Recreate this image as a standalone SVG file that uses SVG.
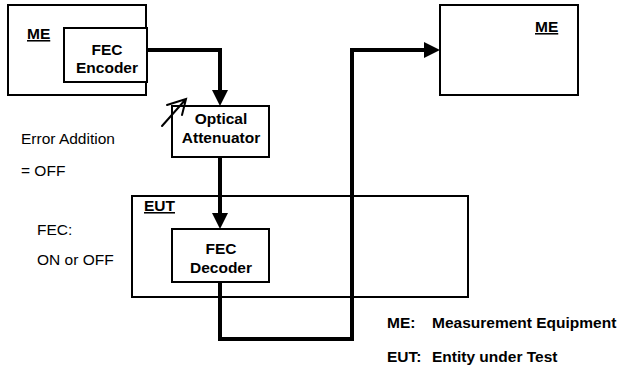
<svg xmlns="http://www.w3.org/2000/svg" width="623" height="367" viewBox="0 0 623 367">
<style>
  .box { fill: #ffffff; stroke: #000000; stroke-width: 2; }
  .t { font-family: "Liberation Sans", Arial, sans-serif; font-size: 15.5px; fill: #000000; }
  .b { font-weight: bold; }
  .c { text-anchor: middle; }
  .u { text-decoration: underline; }
  .conn { fill: none; stroke: #000000; stroke-width: 4; stroke-linejoin: miter; }
  .thin { fill: none; stroke: #000000; stroke-width: 2; stroke-linecap: round; }
</style>
<defs>
  <marker id="arr" markerUnits="userSpaceOnUse" markerWidth="16" markerHeight="16" refX="8" refY="8" orient="auto">
    <path d="M0,0 L16,8 L0,16 z" fill="#000000"/>
  </marker>
</defs>
<rect width="623" height="367" fill="#ffffff"/>

<g id="me-left">
  <rect class="box" x="8" y="5" width="138" height="90"/>
  <text class="t b u" x="27" y="39">ME</text>
</g>
<g id="fec-encoder">
  <rect class="box" x="64" y="28" width="83" height="54"/>
  <text class="t b c" x="107" y="55">FEC</text>
  <text class="t b c" x="107" y="73">Encoder</text>
</g>
<g id="optical-attenuator">
  <rect class="box" x="172" y="106" width="97" height="51"/>
  <text class="t b c" x="221" y="124">Optical</text>
  <text class="t b c" x="221" y="143">Attenuator</text>
  <path class="thin" d="M162,126 L186,99 M167,105 L186,99 L182,115"/>
</g>
<g id="eut">
  <rect class="box" x="132" y="196" width="336" height="101"/>
  <text class="t b u" x="144" y="211">EUT</text>
</g>
<g id="fec-decoder">
  <rect class="box" x="172" y="229" width="97" height="53"/>
  <text class="t b c" x="221" y="254">FEC</text>
  <text class="t b c" x="221" y="273">Decoder</text>
</g>
<g id="me-right">
  <rect class="box" x="440" y="5" width="138" height="90"/>
  <text class="t b u" x="535" y="32">ME</text>
</g>

<g id="connectors">
  <path class="conn" d="M147,50 H220 V98" marker-end="url(#arr)"/>
  <path class="conn" d="M220,157 V221" marker-end="url(#arr)"/>
  <path class="conn" d="M220,282 V339 H352 V50 H432" marker-end="url(#arr)"/>
</g>

<g id="notes">
  <text class="t" x="21" y="144">Error Addition</text>
  <text class="t" x="21" y="176">= OFF</text>
  <text class="t" x="37" y="235">FEC:</text>
  <text class="t" x="37" y="265">ON or OFF</text>
</g>
<g id="legend">
  <text class="t b" x="387" y="328">ME:</text>
  <text class="t b" x="432" y="328">Measurement Equipment</text>
  <text class="t b" x="387" y="362">EUT:</text>
  <text class="t b" x="432" y="362">Entity under Test</text>
</g>
</svg>
